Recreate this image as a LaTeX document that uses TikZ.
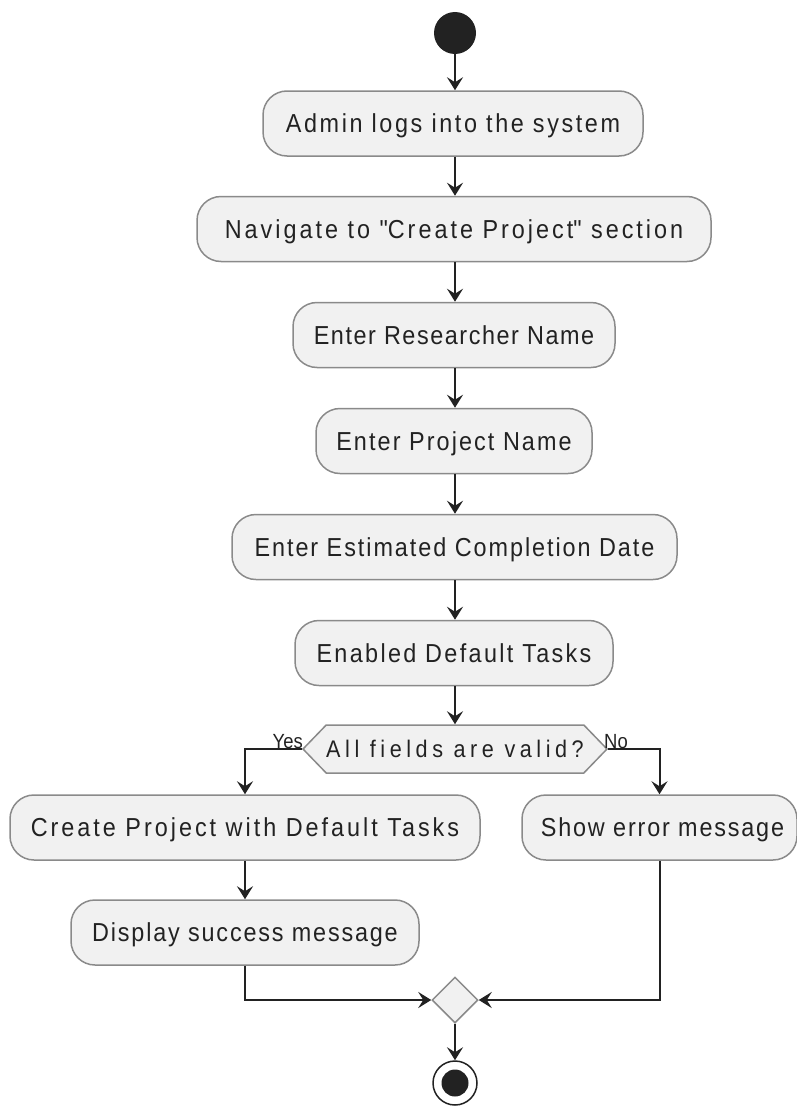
\documentclass[tikz,border=0pt]{standalone}
\usepackage{fontspec}
\setmainfont{Liberation Sans}[FakeStretch=0.9]
\newfontfamily\qfont{Liberation Sans}[FakeStretch=0.9,LetterSpace=11]
\usetikzlibrary{arrows.meta,shapes.geometric,shapes.symbols}
\newcommand\lsp[1]{\addfontfeature{LetterSpace=#1}}
\definecolor{boxfill}{HTML}{F1F1F1}
\definecolor{boxline}{HTML}{8A8A8A}
\definecolor{ink}{HTML}{222222}
\tikzset{
  act/.style={draw=boxline, line width=1.5pt, fill=boxfill, rounded corners=24pt,
    minimum height=65pt, inner sep=0pt, text height=18.6pt, text depth=0pt,
    font=\fontsize{26}{30}\selectfont, text=ink},
  flow/.style={draw=ink, line width=2pt, -{Stealth[length=13pt,width=16pt,inset=5pt]}},
  lbl/.style={font=\fontsize{20.5}{22}\selectfont, text=ink, inner sep=0pt}
}
\begin{document}
\begin{tikzpicture}[x=1pt,y=-1pt]
\useasboundingbox (0,0) rectangle (796,1108);
\node[circle, fill=ink, minimum size=42pt, inner sep=0pt] (start) at (455,33) {};
\node[act, minimum width=380pt] (a1) at (453,123.5) {\lsp{10}Admin logs into the system};
\node[act, minimum width=514pt] (a2) at (454,229) {\lsp{11.5}Navigate to {\qfont\fontsize{26}{30}\selectfont"}Create Project{\qfont\fontsize{26}{30}\selectfont"} section};
\node[act, minimum width=322pt] (a3) at (454,335) {\lsp{6}Enter Researcher Name};
\node[act, minimum width=276pt] (a4) at (454,441) {\lsp{8}Enter Project Name};
\node[act, minimum width=445pt] (a5) at (454.5,547) {\lsp{7.5}Enter Estimated Completion Date};
\node[act, minimum width=318pt] (a6) at (454,653) {\lsp{9}Enabled Default Tasks};
\node[signal, signal to=west and east, signal pointer angle=92, draw=boxline, line width=1.5pt,
  fill=boxfill, minimum width=298pt, minimum height=48pt, inner sep=0pt,
  text height=17pt, text depth=0pt,
  font=\fontsize{24}{28}\selectfont, text=ink] (dec) at (455,749) {\lsp{19}All fields are valid?};
\node[act, minimum width=470pt] (yes1) at (245,827.5) {\lsp{11.5}Create Project with Default Tasks};
\node[act, minimum width=275pt] (no1) at (659.5,827.5) {\hspace*{6pt}\lsp{7}Show error message};
\node[act, minimum width=348pt] (yes2) at (245,932.5) {\lsp{7}Display success message};
\node[diamond, aspect=1, draw=boxline, line width=1.5pt, fill=boxfill, minimum size=46pt, inner sep=0pt] (merge) at (455,1000) {};
\node[circle, draw=ink, line width=1.5pt, fill=white, minimum size=44pt, inner sep=0pt] (stop) at (455,1083) {};
\node[circle, fill=ink, minimum size=27pt, inner sep=0pt] (stopin) at (stop.center) {};
\node[lbl, anchor=base east] (ly) at (303,748) {Yes};
\node[lbl, anchor=base west] (ln) at (604,748) {No};
\draw[flow] (start) -- (start |- a1.north);
\draw[flow] (a1.south -| start) -- (a2.north -| start);
\draw[flow] (a2.south -| start) -- (a3.north -| start);
\draw[flow] (a3.south -| start) -- (a4.north -| start);
\draw[flow] (a4.south -| start) -- (a5.north -| start);
\draw[flow] (a5.south -| start) -- (a6.north -| start);
\draw[flow] (a6.south -| dec.north) -- (dec.north);
\draw[flow] (dec.west) -| (yes1.north);
\draw[flow] (dec.east) -| (no1.north);
\draw[flow] (yes1) -- (yes2);
\draw[flow] (yes2.south) |- (merge.west);
\draw[flow] (no1.south) |- (merge.east);
\draw[flow] (merge) -- (stop);
\end{tikzpicture}
\end{document}
